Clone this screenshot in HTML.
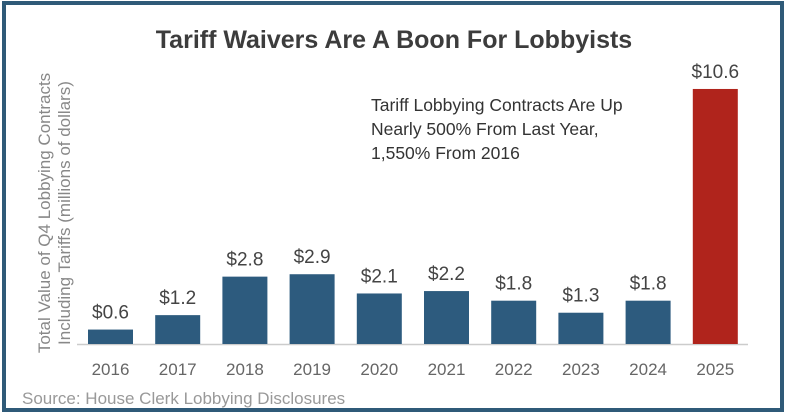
<!DOCTYPE html>
<html><head><meta charset="utf-8"><style>
body{margin:0;width:789px;height:415px;background:#fff;overflow:hidden;font-family:"Liberation Sans",sans-serif}
svg{display:block}
</style></head><body>
<svg width="789" height="415">
<rect x="4" y="3" width="778" height="407" fill="#fff" stroke="#2f5a78" stroke-width="4"/>
<text x="394" y="48" text-anchor="middle" font-size="25" font-weight="bold" fill="#3c3c3c">Tariff Waivers Are A Boon For Lobbyists</text>
<g fill="#888" font-size="17">
<text transform="translate(50,213) rotate(-90)" text-anchor="middle">Total Value of Q4 Lobbying Contracts</text>
<text transform="translate(70,213) rotate(-90)" text-anchor="middle">Including Tariffs  (millions of dollars)</text>
</g>
<g fill="#333" font-size="17.5">
<text x="371" y="111">Tariff Lobbying Contracts Are Up</text>
<text x="371" y="135">Nearly 500% From Last Year,</text>
<text x="371" y="159">1,550% From 2016</text>
</g>
<line x1="77" x2="748" y1="344.5" y2="344.5" stroke="#ccc" stroke-width="1.5"/>
<g id="bars"></g>
<text x="22" y="404" font-size="17" fill="#999">Source: House Clerk Lobbying Disclosures</text>
</svg>
<script>
const years=["2016","2017","2018","2019","2020","2021","2022","2023","2024","2025"];
const values=[0.6,1.2,2.8,2.9,2.1,2.2,1.8,1.3,1.8,10.6];
const labels=["$0.6","$1.2","$2.8","$2.9","$2.1","$2.2","$1.8","$1.3","$1.8","$10.6"];
const base=344,scale=24.06,x0=110.5,step=67.2,bw=45;
const x=i=>x0+i*step, y=v=>base-v*scale;
const g=document.getElementById('bars');const ns="http://www.w3.org/2000/svg";
years.forEach((yr,i)=>{
 const r=document.createElementNS(ns,'rect');
 r.setAttribute('x',x(i)-bw/2);r.setAttribute('y',y(values[i]));r.setAttribute('width',bw);r.setAttribute('height',base-y(values[i]));
 r.setAttribute('fill',i==9?'#b0241c':'#2d5b7e');
 
 
 g.appendChild(r);
 const t=document.createElementNS(ns,'text');
 t.setAttribute('x',x(i));t.setAttribute('y',y(values[i])-11);t.setAttribute('text-anchor','middle');t.setAttribute('font-size','19');t.setAttribute('fill','#444');
 t.textContent=labels[i];
 
 
 g.appendChild(t);
 const l=document.createElementNS(ns,'text');
 l.setAttribute('x',x(i));l.setAttribute('y',375);l.setAttribute('text-anchor','middle');l.setAttribute('font-size','17');l.setAttribute('fill','#666');
 l.textContent=yr;
 
 
 g.appendChild(l);
});
</script>
</body></html>
